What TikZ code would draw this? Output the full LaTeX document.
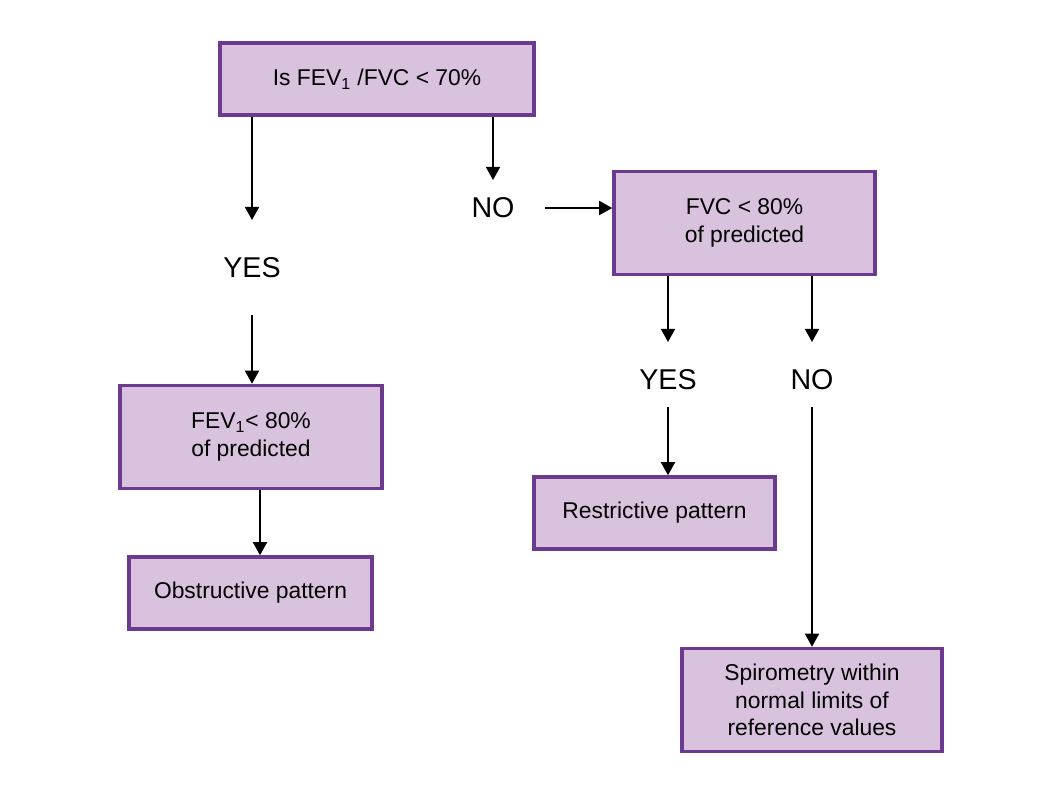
\documentclass[tikz,border=0pt]{standalone}
\usepackage{fontspec}
\setmainfont{Liberation Sans}
\definecolor{boxlilac}{RGB}{216, 194, 222}
\definecolor{boxpurple}{RGB}{108, 58, 142}
\usetikzlibrary{arrows.meta, positioning, calc}

\begin{document}
\begin{tikzpicture}[x=0.02cm, y=-0.02cm,
    decision/.style={draw=boxpurple, line width=2pt, fill=boxlilac, align=center,
                     font=\fontsize{13}{15.8}\selectfont, inner sep=2pt},
    answer/.style={font=\fontsize{16.3}{19}\selectfont, inner sep=0pt},
    arr/.style={-{Triangle[width=8pt, length=7.5pt]}, line width=1.1pt, black}]
    \useasboundingbox (0,0) rectangle (1053,799);
    % boxes
    \node[decision, minimum width=6.28cm, minimum height=1.44cm] (fevfvc) at (377, 79) {Is FEV\textsubscript{1} /FVC < 70\%};
    \node[decision, minimum width=5.22cm, minimum height=2.06cm] (fvc) at (744.5, 223) {FVC < 80\%\\of predicted};
    \node[decision, minimum width=5.24cm, minimum height=2.06cm] (fevone) at (251, 437) {FEV\textsubscript{1}< 80\%\\of predicted};
    \node[decision, minimum width=4.86cm, minimum height=1.44cm] (obstr) at (250.5, 593) {Obstructive pattern};
    \node[decision, minimum width=4.82cm, minimum height=1.44cm] (restr) at (654.5, 513) {Restrictive pattern};
    \node[decision, minimum width=5.2cm, minimum height=2.06cm] (normal) at (812, 700) {Spirometry within\\normal limits of\\reference values};
    % answers
    \node[answer] (yesleft) at (252, 268) {YES};
    \node[answer] (noleft) at (493, 208) {NO};
    \node[answer] (yesright) at (668, 380) {YES};
    \node[answer] (noright) at (812, 380) {NO};
    % arrows
    \draw[arr, shorten >=0.96cm] (fevfvc.south -| yesleft) -- (yesleft.center);
    \draw[arr, shorten <=0.94cm] (yesleft.center) -- (fevone.north -| yesleft);
    \draw[arr] ([xshift=0.18cm]fevone.south) -- ([xshift=0.18cm]fevone.south |- obstr.north);
    \draw[arr, shorten >=0.56cm] (fevfvc.south -| noleft) -- (noleft.center);
    \draw[arr, shorten <=1.04cm] (noleft.center) -- (fvc.west |- noleft);
    \draw[arr, shorten >=0.76cm] (fvc.south -| yesright) -- (yesright.center);
    \draw[arr, shorten >=0.76cm] (fvc.south -| noright) -- (noright.center);
    \draw[arr, shorten <=0.54cm] (yesright.center) -- (restr.north -| yesright);
    \draw[arr, shorten <=0.54cm] (noright.center) -- (normal.north -| noright);
\end{tikzpicture}
\end{document}
